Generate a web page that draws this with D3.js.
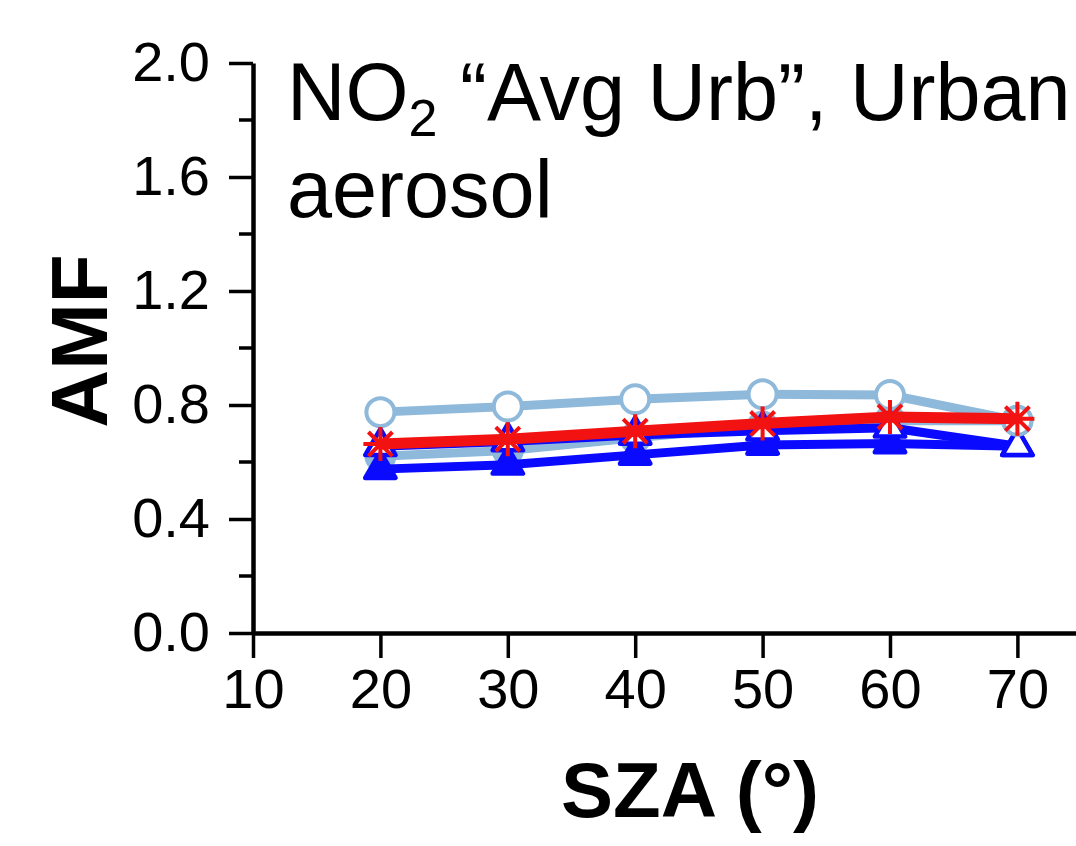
<!DOCTYPE html>
<html>
<head>
<meta charset="utf-8">
<script src="https://cdn.jsdelivr.net/npm/d3@7"></script>
<style>
  body { margin: 0; background: #fff; }
  text { font-family: "Liberation Sans", Arial, sans-serif; }
</style>
</head>
<body>
<script>
// data
var sza = [20, 30, 40, 50, 60, 70];
var amfOpenCircle = [0.775, 0.795, 0.82, 0.838, 0.835, 0.745];
var amfFilledCircle = [0.62, 0.64, 0.685, 0.725, 0.745, 0.745];
var amfOpenTri = [0.655, 0.672, 0.695, 0.71, 0.72, 0.655];
var amfFilledTri = [0.575, 0.59, 0.625, 0.66, 0.665, 0.655];
var amfStar = [0.663, 0.68, 0.708, 0.735, 0.758, 0.752];
var xTicks = [10, 20, 30, 40, 50, 60, 70];
var yTicks = [0.0, 0.4, 0.8, 1.2, 1.6, 2.0];
var yMinor = [0.2, 0.6, 1.0, 1.4, 1.8];

var width = 1076, height = 846;

var x = d3.scaleLinear().domain([10, 74.6]).range([253, 1076]);
var y = d3.scaleLinear().domain([0, 2]).range([633, 63]);

var svg = d3.select("body").append("svg")
	.attr("width", width)
	.attr("height", height);

// axes
var bottomAxis = d3.axisBottom(x).tickValues(xTicks).tickSize(25).tickPadding(10).tickSizeOuter(0)
	.tickFormat(d3.format("d"));
var gx = svg.append("g")
	.attr("transform", "translate(0," + y(0) + ")")
	.call(bottomAxis);

var leftAxis = d3.axisLeft(y).tickValues(yTicks).tickSize(24).tickPadding(19).tickSizeOuter(0)
	.tickFormat(d3.format(".1f"));
var gy = svg.append("g")
	.attr("transform", "translate(" + x(10) + ",0)")
	.call(leftAxis);

gy.selectAll(".minor")
	.data(yMinor)
	.enter().append("line")
	.attr("class", "minor")
	.attr("x1", -14).attr("x2", 0)
	.attr("y1", (d) => y(d)).attr("y2", (d) => y(d))
	.attr("stroke", "#000").attr("stroke-width", 3.5);

[gx, gy].forEach((g) => {
	g.select(".domain").attr("stroke-width", 4.5);
	g.selectAll(".tick line").attr("stroke-width", 3.5);
	g.selectAll(".tick text").attr("font-size", "56px").attr("fill", "#000")
		.style("font-family", "'Liberation Sans', Arial, sans-serif");
});

// lines and markers
var line = d3.line().x((d) => x(d[0])).y((d) => y(d[1]));
var lightBlue = "#8fb9da", red = "#f21212", blue = "#0a0aff";

var series = [
	{ vals: amfFilledCircle, color: lightBlue, width: 9, marker: "circle", fill: lightBlue },
	{ vals: amfFilledTri, color: blue, width: 9, marker: "triangle", fill: blue },
	{ vals: amfOpenTri, color: blue, width: 9, marker: "triangle", fill: "#fff" },
	{ vals: amfOpenCircle, color: lightBlue, width: 9, marker: "circle", fill: "#fff" },
	{ vals: amfStar, color: red, width: 11, marker: "star", fill: "none" }
];

series.forEach((s) => {
	var pts = sza.map((d, i) => [d, s.vals[i]]);
	svg.append("path")
		.datum(pts)
		.attr("d", line)
		.attr("fill", "none")
		.attr("stroke", s.color)
		.attr("stroke-width", s.width)
		.attr("stroke-linejoin", "round");

	var m = svg.selectAll(null).data(pts).enter();
	if (s.marker == "circle") {
		m.append("circle")
			.attr("cx", (d) => x(d[0])).attr("cy", (d) => y(d[1]))
			.attr("r", 14)
			.attr("fill", s.fill)
			.attr("stroke", s.color)
			.attr("stroke-width", 4);
	} else if (s.marker == "triangle") {
		m.append("path")
			.attr("d", d3.symbol().type(d3.symbolTriangle).size(400))
			.attr("transform", (d) => "translate(" + x(d[0]) + "," + y(d[1]) + ")")
			.attr("fill", s.fill)
			.attr("stroke", s.color)
			.attr("stroke-width", 4.5)
			.attr("stroke-linejoin", "round");
	} else {
		var r = 17, k = r * Math.SQRT1_2;
		var star = "M0," + (-r) + "V" + r + "M" + (-r) + ",0H" + r +
			"M" + (-k) + "," + (-k) + "L" + k + "," + k + "M" + (-k) + "," + k + "L" + k + "," + (-k);
		m.append("path")
			.attr("d", star)
			.attr("transform", (d) => "translate(" + x(d[0]) + "," + y(d[1]) + ")")
			.attr("fill", "none")
			.attr("stroke", s.color)
			.attr("stroke-width", 4);
	}
});

// title
var title = svg.append("text")
	.attr("x", 287)
	.attr("y", 120)
	.attr("font-size", "81px")
	.attr("fill", "#000");
title.append("tspan").text("NO");
title.append("tspan").attr("font-size", "52px").attr("dy", 16).text("2");
title.append("tspan").attr("dy", -16).text(" \u201cAvg Urb\u201d, Urban");

svg.append("text")
	.attr("x", 287)
	.attr("y", 217)
	.attr("font-size", "81px")
	.attr("fill", "#000")
	.text("aerosol");

// axis labels
svg.append("text")
	.attr("x", 690)
	.attr("y", 817)
	.attr("text-anchor", "middle")
	.attr("font-size", "78px")
	.attr("font-weight", "bold")
	.attr("fill", "#000")
	.text("SZA (\u00b0)");

svg.append("text")
	.attr("transform", "translate(107,341) rotate(-90)")
	.attr("text-anchor", "middle")
	.attr("font-size", "80px")
	.attr("font-weight", "bold")
	.attr("fill", "#000")
	.text("AMF");
</script>
</body>
</html>
